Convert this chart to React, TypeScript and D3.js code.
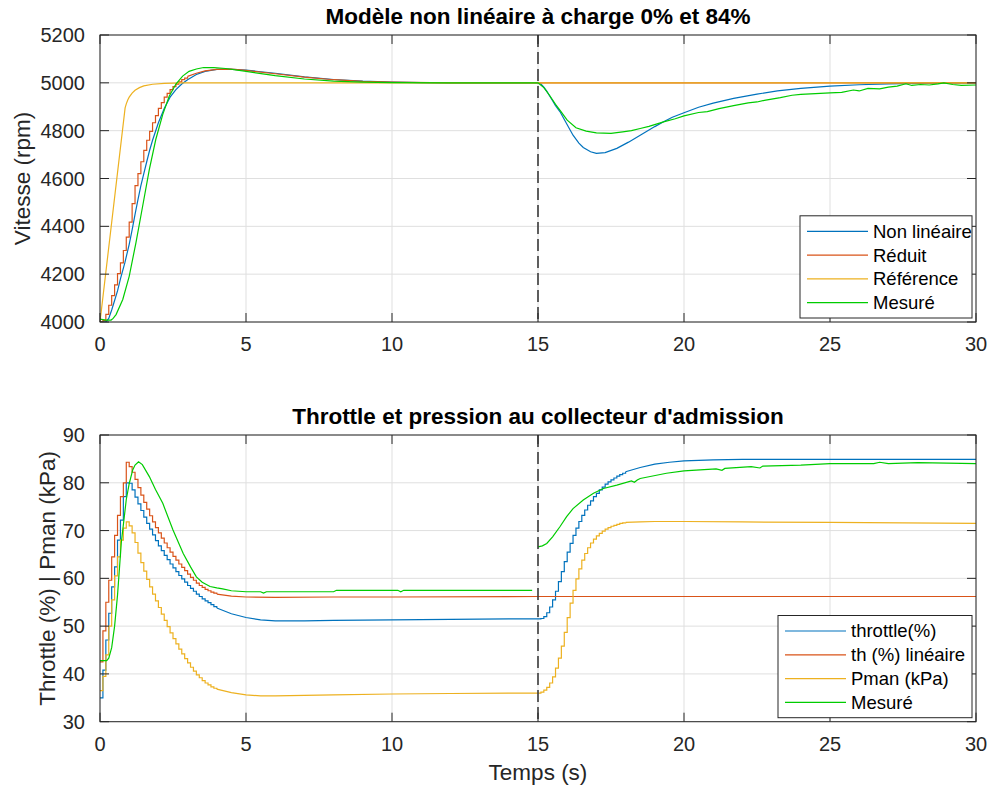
import * as d3 from 'd3';
import React from 'react';

// ---- top axes : vitesse (rpm) ----
const blueTopT = [0, 0.2, 0.3, 0.4, 0.5, 0.6, 0.7, 0.85, 1.0, 1.1, 1.2, 1.3, 1.4, 1.5, 1.6, 1.7, 1.8, 2.0, 2.2, 2.4, 2.6, 2.8, 3.0, 3.3, 3.6, 4.0, 4.4, 5.0, 6, 7, 8, 9, 10, 11, 12, 15, 15.1, 15.2, 15.3, 15.4, 15.5, 15.6, 15.75, 16.0, 16.2, 16.4, 16.55, 16.8, 17.0, 17.3, 17.7, 18.1, 18.5, 19.0, 19.3, 19.6, 20.0, 20.5, 21, 21.7, 22.5, 23.2, 24, 25, 26, 27, 28, 29, 30];
const blueTop = [4000, 4000, 4015, 4050, 4090, 4130, 4180, 4247, 4325, 4385, 4450, 4512, 4570, 4620, 4670, 4718, 4760, 4833, 4893, 4940, 4972, 4995, 5013, 5035, 5048, 5056, 5057, 5053, 5040, 5025, 5014, 5007, 5003, 5001, 5000, 5000, 4995, 4982, 4965, 4945, 4925, 4905, 4880, 4825, 4781, 4748, 4730, 4712, 4705, 4708, 4726, 4752, 4781, 4817, 4837, 4856, 4875, 4898, 4915, 4935, 4953, 4966, 4977, 4986, 4992, 4996, 4998, 4999, 5000];

// réduit : échantillonné (escalier) pendant le transitoire
const redTopStepT = [0, 0.1, 0.2, 0.3, 0.4, 0.5, 0.6, 0.7, 0.8, 0.9, 1.0, 1.1, 1.2, 1.3, 1.4, 1.5, 1.6, 1.7, 1.8, 1.9, 2.0, 2.1, 2.2, 2.3, 2.4, 2.5, 2.6, 2.7, 2.8, 2.9, 3.0];
const redTopStep = [4000, 4007, 4032, 4070, 4110, 4155, 4202, 4247, 4299, 4355, 4418, 4495, 4570, 4620, 4670, 4718, 4760, 4797, 4833, 4863, 4893, 4917, 4940, 4956, 4972, 4984, 4995, 5004, 5013, 5020, 5027];
const redTopTailT = [3.0, 3.3, 3.6, 4.0, 4.5, 5, 6, 7, 8, 9, 10, 12, 30];
const redTopTail = [5027, 5040, 5050, 5056, 5057, 5052, 5038, 5024, 5013, 5006, 5003, 5000, 5000];

const yellowTopT = [0, 0.86, 0.9, 0.95, 1.0, 1.1, 1.2, 1.35, 1.5, 1.8, 2.2, 2.8, 30];
const yellowTop = [4000, 4895, 4912, 4928, 4940, 4957, 4969, 4980, 4987, 4994, 4998, 5000, 5000];

const greenTopT = [0, 0.2, 0.38, 0.45, 0.55, 0.78, 1.0, 1.23, 1.46, 1.69, 1.91, 2.15, 2.37, 2.6, 2.83, 3.05, 3.3, 3.55, 3.9, 4.3, 5, 6, 7, 8, 9, 10, 12, 15, 15.2, 15.4, 15.6, 15.75, 16.0, 16.3, 16.65, 17.0, 17.5, 17.9, 18.2, 18.5, 18.8, 19.3, 19.7, 20, 20.5, 20.8, 21.2, 21.7, 22.2, 22.5, 22.8, 23.3, 23.7, 24, 24.5, 25, 25.4, 25.8, 26.0, 26.3, 26.7, 27.0, 27.3, 27.6, 27.8, 28.1, 28.4, 28.7, 28.9, 29.2, 29.5, 30];
const greenTop = [4012, 4008, 4008, 4015, 4031, 4094, 4191, 4331, 4484, 4638, 4763, 4868, 4944, 4995, 5028, 5048, 5058, 5064, 5064, 5060, 5048, 5030, 5016, 5007, 5003, 5001, 5000, 5000, 4980, 4947, 4910, 4886, 4844, 4812, 4798, 4791, 4789, 4795, 4800, 4809, 4818, 4837, 4850, 4862, 4876, 4880, 4892, 4905, 4916, 4920, 4928, 4938, 4948, 4952, 4955, 4958, 4960, 4970, 4966, 4977, 4975, 4982, 4986, 4996, 4989, 4993, 4991, 4996, 5000, 4993, 4989, 4991];

// ---- bottom axes : throttle / pression ----
const stepT0 = [0, 0.1, 0.2, 0.3, 0.4, 0.5, 0.6, 0.7, 0.8, 0.9, 1.0, 1.1, 1.2, 1.3, 1.4, 1.5, 1.6, 1.7, 1.8, 1.9, 2.0, 2.1, 2.2, 2.3, 2.4, 2.5, 2.6, 2.7, 2.8, 2.9, 3.0, 3.1, 3.2, 3.3, 3.4, 3.5, 3.6, 3.7, 3.8, 3.9, 4.0];
const blueStep0 = [35.0, 40.8, 47.1, 52.7, 58.2, 62.4, 68.0, 72.2, 77.1, 80.0, 79.9, 78.5, 77.0, 75.6, 74.2, 72.8, 71.5, 70.3, 69.1, 67.9, 66.8, 65.8, 64.8, 63.9, 63.0, 62.2, 61.4, 60.6, 59.9, 59.2, 58.5, 57.9, 57.3, 56.7, 56.2, 55.7, 55.3, 54.9, 54.5, 54.1, 53.8];
const redStep0 = [42.5, 49.0, 55.0, 59.6, 64.5, 69.0, 73.2, 77.1, 80.0, 84.3, 83.4, 82.2, 80.7, 79.0, 77.4, 75.9, 74.5, 73.1, 71.8, 70.6, 69.5, 68.4, 67.4, 66.4, 65.5, 64.6, 63.8, 63.0, 62.3, 61.6, 60.9, 60.2, 59.6, 59.0, 58.5, 58.1, 57.7, 57.4, 57.1, 56.9, 56.7];
const yellowStep0 = [36.5, 39.5, 44.0, 50.0, 55.5, 60.5, 64.5, 68.0, 70.5, 71.8, 71.0, 69.5, 67.5, 65.3, 63.3, 61.5, 59.8, 58.2, 56.7, 55.3, 53.9, 52.5, 51.2, 49.9, 48.6, 47.4, 46.3, 45.2, 44.2, 43.2, 42.3, 41.4, 40.6, 39.8, 39.2, 38.6, 38.1, 37.7, 37.3, 37.0, 36.8];

const blueTailT0 = [4.0, 4.5, 5, 5.5, 6, 7, 8, 10, 12, 14, 15];
const blueTail0 = [53.8, 52.6, 51.8, 51.3, 51.1, 51.1, 51.2, 51.3, 51.4, 51.5, 51.5];
const redTailT = [4.0, 4.5, 5, 6, 8, 10, 15, 20, 30];
const redTail = [56.7, 56.3, 56.1, 56.0, 56.1, 56.1, 56.2, 56.2, 56.2];
const yellowTailT0 = [4.0, 4.5, 5, 5.5, 6, 7, 8, 10, 12, 14, 15];
const yellowTail0 = [36.8, 36.1, 35.6, 35.4, 35.4, 35.5, 35.6, 35.8, 35.9, 36.0, 36.0];

const stepT1 = [15.0, 15.1, 15.2, 15.3, 15.4, 15.5, 15.6, 15.7, 15.8, 15.9, 16.0, 16.1, 16.2, 16.3, 16.4, 16.5, 16.6, 16.7, 16.8, 16.9, 17.0, 17.1, 17.2, 17.3, 17.4, 17.5, 17.6, 17.7, 17.8, 17.9, 18.0];
const blueStep1 = [51.5, 51.6, 52.0, 52.8, 54.0, 55.5, 57.3, 59.3, 61.4, 63.5, 65.5, 67.3, 69.0, 70.5, 71.9, 73.2, 74.3, 75.3, 76.2, 77.1, 77.8, 78.5, 79.1, 79.7, 80.2, 80.6, 81.0, 81.4, 81.7, 82.0, 82.3];
const yellowStep1 = [36.0, 36.2, 36.6, 37.2, 38.1, 39.4, 41.2, 43.3, 45.8, 48.7, 51.8, 54.8, 57.5, 59.9, 62.0, 63.8, 65.2, 66.4, 67.4, 68.2, 68.9, 69.4, 69.9, 70.3, 70.6, 70.9, 71.1, 71.3, 71.5, 71.6, 71.7];
const blueTailT1 = [18.0, 18.5, 19, 19.5, 20, 21, 22, 25, 30];
const blueTail1 = [82.3, 83.2, 83.9, 84.3, 84.6, 84.8, 84.9, 84.9, 84.9];
const yellowTailT1 = [18, 18.5, 19, 20, 22, 25, 30];
const yellowTail1 = [71.7, 71.8, 71.9, 71.9, 71.8, 71.7, 71.5];

const greenBotT0 = [0, 0.23, 0.3, 0.4, 0.5, 0.6, 0.73, 0.9, 1.0, 1.12, 1.2, 1.32, 1.45, 1.69, 1.9, 2.15, 2.5, 2.85, 3.1, 3.3, 3.5, 3.77, 4.0, 4.2, 4.5, 5.0, 5.5, 5.6, 5.7, 8.0, 8.1, 10.2, 10.3, 10.4, 14.8];
const greenBot0 = [42.8, 42.8, 43.3, 45.5, 50.0, 56.5, 67.5, 76.5, 79.8, 82.7, 83.7, 84.4, 83.8, 81.3, 78.6, 75.7, 70.1, 65.2, 62.4, 60.3, 59.2, 58.3, 58.0, 57.8, 57.4, 57.2, 57.2, 56.9, 57.2, 57.2, 57.5, 57.5, 57.2, 57.5, 57.5];
const greenBotT1 = [15.0, 15.15, 15.3, 15.5, 15.75, 15.98, 16.2, 16.55, 16.9, 17.24, 17.7, 18.2, 18.3, 18.4, 18.5, 19.4, 20.0, 21.1, 21.3, 21.4, 22.3, 22.6, 22.7, 24.0, 25.0, 26.0, 26.5, 26.7, 27.0, 28.0, 29.0, 30.0];
const greenBot1 = [66.6, 66.8, 67.3, 68.7, 70.8, 72.9, 74.6, 76.4, 77.8, 78.8, 79.5, 80.4, 80.1, 80.6, 80.9, 82.0, 82.5, 82.9, 82.6, 83.0, 83.4, 83.1, 83.5, 83.7, 84.0, 84.0, 84.0, 84.3, 84.0, 84.2, 84.1, 84.0];

const xTicks = [0, 5, 10, 15, 20, 25, 30];
const yTicksTop = [4000, 4200, 4400, 4600, 4800, 5000, 5200];
const yTicksBot = [30, 40, 50, 60, 70, 80, 90];
const legendTop = ['Non linéaire', 'Réduit', 'Référence', 'Mesuré'];
const legendBot = ['throttle(%)', 'th (%) linéaire', 'Pman (kPa)', 'Mesuré'];

const C = { blue: '#0072BD', red: '#D95319', yellow: '#EDB120', green: '#00CC00' };
const FONT = '"Liberation Sans", Arial, Helvetica, sans-serif';
const TXT = '#262626';

const W = 989;
const H = 786;
const L = 100;
const R = 976;
const x = d3.scaleLinear().domain([0, 30]).range([L, R]);

const seg = (t, v, color, step = false) => ({ t, v, color, step });

const Axes = ({ id, top, bottom, yDomain, yTicks, title, ylabel, ylabelX, series, legend, legendW, xlabel }) => {
  const y = d3.scaleLinear().domain(yDomain).range([bottom, top]);
  const tk = 9;
  const mkLine = (s) =>
    d3
      .line()
      .x((d, i) => x(s.t[i]))
      .y((d) => y(d))
      .curve(s.step ? d3.curveStepAfter : d3.curveLinear)(s.v);

  const lgR = R - 4;
  const lgB = bottom - 4;
  const rowH = 23.8;
  const lgH = rowH * legend.length + 7;
  const lgL = lgR - legendW;
  const lgT = lgB - lgH;
  const colors = [C.blue, C.red, C.yellow, C.green];

  return (
    <g>
      <defs>
        <clipPath id={id}>
          <rect x={L} y={top} width={R - L} height={bottom - top} />
        </clipPath>
      </defs>
      <rect x={L} y={top} width={R - L} height={bottom - top} fill="#fff" />
      {/* grille */}
      {xTicks.map((t) => (
        <line key={'gx' + t} x1={x(t)} x2={x(t)} y1={top} y2={bottom} stroke="#dfdfdf" strokeWidth={1} />
      ))}
      {yTicks.map((t) => (
        <line key={'gy' + t} x1={L} x2={R} y1={y(t)} y2={y(t)} stroke="#dfdfdf" strokeWidth={1} />
      ))}
      <g clipPath={`url(#${id})`}>
        {series.map((s, i) => (
          <path key={i} d={mkLine(s)} fill="none" stroke={s.color} strokeWidth={1.2} />
        ))}
        <line x1={x(15)} x2={x(15)} y1={top} y2={bottom} stroke="#3a3a3a" strokeWidth={1.6} strokeDasharray="12,5" />
      </g>
      {/* cadre et graduations */}
      <rect x={L} y={top} width={R - L} height={bottom - top} fill="none" stroke={TXT} strokeWidth={1} />
      {xTicks.map((t) => (
        <g key={'tx' + t}>
          <line x1={x(t)} x2={x(t)} y1={bottom} y2={bottom - tk} stroke={TXT} />
          <line x1={x(t)} x2={x(t)} y1={top} y2={top + tk} stroke={TXT} />
          <text x={x(t)} y={bottom + 29} textAnchor="middle" fontSize={20} fill={TXT}>
            {t}
          </text>
        </g>
      ))}
      {yTicks.map((t) => (
        <g key={'ty' + t}>
          <line x1={L} x2={L + tk} y1={y(t)} y2={y(t)} stroke={TXT} />
          <line x1={R} x2={R - tk} y1={y(t)} y2={y(t)} stroke={TXT} />
          <text x={L - 15} y={y(t)} dy="0.35em" textAnchor="end" fontSize={20} fill={TXT}>
            {t}
          </text>
        </g>
      ))}
      <text x={(L + R) / 2} y={top - 11.5} textAnchor="middle" fontSize={22.5} fontWeight="bold" fill="#000">
        {title}
      </text>
      <text
        transform={`translate(${ylabelX},${(top + bottom) / 2}) rotate(-90)`}
        dy="0.35em"
        textAnchor="middle"
        fontSize={22.5}
        fill={TXT}
      >
        {ylabel}
      </text>
      {xlabel && (
        <text x={(L + R) / 2} y={bottom + 58} textAnchor="middle" fontSize={22.5} fill={TXT}>
          {xlabel}
        </text>
      )}
      {/* légende */}
      <rect x={lgL} y={lgT} width={legendW} height={lgH} fill="#fff" stroke={TXT} strokeWidth={1} />
      {legend.map((name, i) => {
        const ly = lgT + 15.5 + i * rowH;
        return (
          <g key={name}>
            <line x1={lgL + 7} x2={lgL + 68} y1={ly} y2={ly} stroke={colors[i]} strokeWidth={1.2} />
            <text x={lgL + 73} y={ly} dy="0.35em" fontSize={18.5} fill="#000">
              {name}
            </text>
          </g>
        );
      })}
    </g>
  );
};

export default function App() {
  const topSeries = [
    seg(blueTopT, blueTop, C.blue),
    seg(redTopStepT, redTopStep, C.red, true),
    seg(redTopTailT, redTopTail, C.red),
    seg(yellowTopT, yellowTop, C.yellow),
    seg(greenTopT, greenTop, C.green),
  ];
  const botSeries = [
    seg(stepT0, blueStep0, C.blue, true),
    seg(blueTailT0, blueTail0, C.blue),
    seg(stepT1, blueStep1, C.blue, true),
    seg(blueTailT1, blueTail1, C.blue),
    seg(stepT0, redStep0, C.red, true),
    seg(redTailT, redTail, C.red),
    seg(stepT0, yellowStep0, C.yellow, true),
    seg(yellowTailT0, yellowTail0, C.yellow),
    seg(stepT1, yellowStep1, C.yellow, true),
    seg(yellowTailT1, yellowTail1, C.yellow),
    seg(greenBotT0, greenBot0, C.green),
    seg(greenBotT1, greenBot1, C.green),
  ];
  return (
    <div style={{ position: 'absolute', left: 0, top: 0 }}>
      <svg width={W} height={H} style={{ display: 'block', background: '#fff', fontFamily: FONT }}>
        <Axes
          id="clipTop"
          top={35}
          bottom={322}
          yDomain={[4000, 5200]}
          yTicks={yTicksTop}
          title="Modèle non linéaire à charge 0% et 84%"
          ylabel="Vitesse (rpm)"
          ylabelX={22}
          series={topSeries}
          legend={legendTop}
          legendW={172}
        />
        <Axes
          id="clipBot"
          top={435}
          bottom={721.7}
          yDomain={[30, 90]}
          yTicks={yTicksBot}
          title="Throttle et pression au collecteur d'admission"
          ylabel="Throttle (%) | Pman (kPa)"
          ylabelX={47}
          series={botSeries}
          legend={legendBot}
          legendW={194}
          xlabel="Temps (s)"
        />
      </svg>
    </div>
  );
}
